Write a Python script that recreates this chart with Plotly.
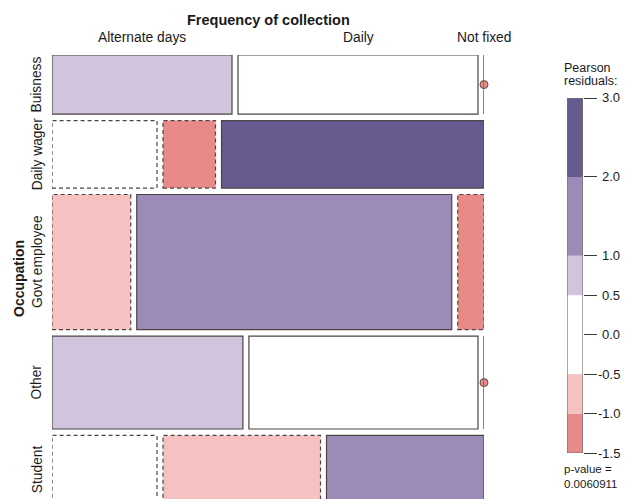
import math
import plotly.graph_objects as go

# Contingency table: occupation (rows) by frequency of collection (columns)
occupations = ["Buisness", "Daily wager", "Govt employee", "Other", "Student"]
frequencies = ["Alternate days", "Daily", "Not fixed"]
alternate_days = [3, 2, 3, 5, 2]
daily = [4, 1, 12, 6, 3]
not_fixed = [0, 5, 1, 0, 3]

# Shading legend
legend_ticks = [3.0, 2.0, 1.0, 0.5, 0.0, -0.5, -1.0, -1.5]
legend_bins = [(-1.5, -1.0), (-1.0, -0.5), (-0.5, 0.5), (0.5, 1.0), (1.0, 2.0), (2.0, 3.0)]


def shade(r):
    if r > 2:
        return "#675a8e"
    if r > 1:
        return "#9b8bb6"
    if r > 0.5:
        return "#d1c4dd"
    if r >= -0.5:
        return "#ffffff"
    if r >= -1:
        return "#f5c1c1"
    return "#e88a87"


table = [list(t) for t in zip(alternate_days, daily, not_fixed)]
row_tot = [sum(r) for r in table]
col_tot = [sum(c) for c in zip(*table)]
n = sum(row_tot)

resid = []
for i, row in enumerate(table):
    rr = []
    for j, obs in enumerate(row):
        exp = row_tot[i] * col_tot[j] / n
        rr.append((obs - exp) / math.sqrt(exp))
    resid.append(rr)

# Chi-square test, df even -> closed-form survival function
chi2 = sum(r * r for row in resid for r in row)
df = (len(occupations) - 1) * (len(frequencies) - 1)
half = chi2 / 2
p_val = math.exp(-half) * sum(half ** k / math.factorial(k) for k in range(df // 2))
p_text = f"{p_val:.5g}"

# Mosaic geometry (unit square, y measured from the top)
W_PX, H_PX = 432.0, 448.0
gx = 6.0 / W_PX
gy = 6.4 / H_PX
avail_x = 1 - (len(frequencies) - 1) * gx
avail_y = 1 - (len(occupations) - 1) * gy

BORDER = "#4d4545"
ZERO_LINE = "#6e6464"

fig = go.Figure()
shapes = []
annotations = []

row_centers = []
first_row_centers = []
top = 0.0
for i, row in enumerate(table):
    h = row_tot[i] / n * avail_y
    y1, y0 = 1 - top, 1 - top - h
    row_centers.append((y0 + y1) / 2)
    x = 0.0
    for j, obs in enumerate(row):
        w = obs / row_tot[i] * avail_x
        r = resid[i][j]
        if obs == 0:
            shapes.append(dict(type="line", xref="x", yref="y", x0=x, x1=x, y0=y0, y1=y1,
                               line=dict(color=ZERO_LINE, width=1.6)))
            fig.add_trace(go.Scatter(x=[x], y=[(y0 + y1) / 2], mode="markers",
                                     marker=dict(size=8, color=shade(r),
                                                 line=dict(color="#5a4a4a", width=1)),
                                     cliponaxis=False, hoverinfo="skip", showlegend=False))
        else:
            shapes.append(dict(type="rect", xref="x", yref="y", x0=x, x1=x + w, y0=y0, y1=y1,
                               fillcolor=shade(r),
                               line=dict(color=BORDER, width=1.2,
                                         dash="solid" if r >= 0 else "4px,3px")))
        if i == 0:
            first_row_centers.append(x + w / 2)
        x += w + gx
    top += h + gy

# Main mosaic axes
fig.update_layout(
    xaxis=dict(domain=[52 / 640, 484 / 640], range=[0, 1], visible=False, fixedrange=True),
    yaxis=dict(domain=[0, (499 - 55) / 499], range=[1 - 444 / H_PX, 1], visible=False,
               fixedrange=True),
)

# Shading legend axes
bar_bottom, bar_top = 453, 98
fig.update_layout(
    xaxis2=dict(domain=[567 / 640, 583 / 640], range=[0, 1], visible=False, anchor="y2"),
    yaxis2=dict(domain=[(499 - bar_bottom) / 499, (499 - bar_top) / 499],
                range=[legend_ticks[-1], legend_ticks[0]], anchor="x2", side="right",
                showline=False, showgrid=False, zeroline=False,
                ticks="outside", ticklen=13, tickwidth=1.2, tickcolor="#3a3a3a",
                tickvals=legend_ticks, showticklabels=False),
)
for lo, hi in legend_bins:
    shapes.append(dict(type="rect", xref="x2", yref="y2", x0=0, x1=1, y0=lo, y1=hi,
                       fillcolor=shade((lo + hi) / 2), line=dict(width=0)))
shapes.append(dict(type="rect", xref="x2", yref="y2", x0=0, x1=1,
                   y0=legend_ticks[-1], y1=legend_ticks[0],
                   fillcolor="rgba(0,0,0,0)", line=dict(color="#7a706c", width=1.2)))
for t in legend_ticks:
    annotations.append(dict(x=622 / 640, y=t, xref="paper", yref="y2", text=f"{t:.1f}",
                            showarrow=False, xanchor="right", yanchor="middle",
                            font=dict(size=13)))

FONT = "Liberation Sans, Arial, sans-serif"

# Column labels over the first row
annotations.append(dict(x=268 / 640, y=1 - 20 / 499, xref="paper", yref="paper",
                        text="<b>Frequency of collection</b>", showarrow=False,
                        xanchor="center", yanchor="middle", font=dict(size=14.5)))
for name, cx in zip(frequencies, first_row_centers):
    annotations.append(dict(x=cx, y=1 - 38 / 499, xref="x", yref="paper", text=name,
                            showarrow=False, xanchor="center", yanchor="middle",
                            font=dict(size=13.8)))

# Row labels
for name, cy in zip(occupations, row_centers):
    annotations.append(dict(x=37 / 640, y=cy, xref="paper", yref="y", text=name,
                            showarrow=False, textangle=-90, xanchor="center",
                            yanchor="middle", font=dict(size=13.8)))
annotations.append(dict(x=19 / 640, y=0.5, xref="paper", yref="y", text="<b>Occupation</b>",
                        showarrow=False, textangle=-90, xanchor="center", yanchor="middle",
                        font=dict(size=14)))

# Legend title and test result
for txt, ypx in [("Pearson", 68), ("residuals:", 81)]:
    annotations.append(dict(x=562 / 640, y=1 - ypx / 499, xref="paper", yref="paper",
                            text=txt, showarrow=False, xanchor="left", yanchor="middle",
                            font=dict(size=12.5)))
annotations.append(dict(x=562 / 640, y=1 - 461 / 499, xref="paper", yref="paper",
                        text=f"p-value =<br>{p_text}", showarrow=False, xanchor="left",
                        yanchor="top", align="left", font=dict(size=11.5)))

fig.update_layout(
    width=640, height=499,
    margin=dict(l=0, r=0, t=0, b=0),
    paper_bgcolor="white", plot_bgcolor="white",
    font=dict(family=FONT, color="#1a1a1a"),
    shapes=shapes, annotations=annotations,
    showlegend=False,
)

fig.write_html("out.html")
